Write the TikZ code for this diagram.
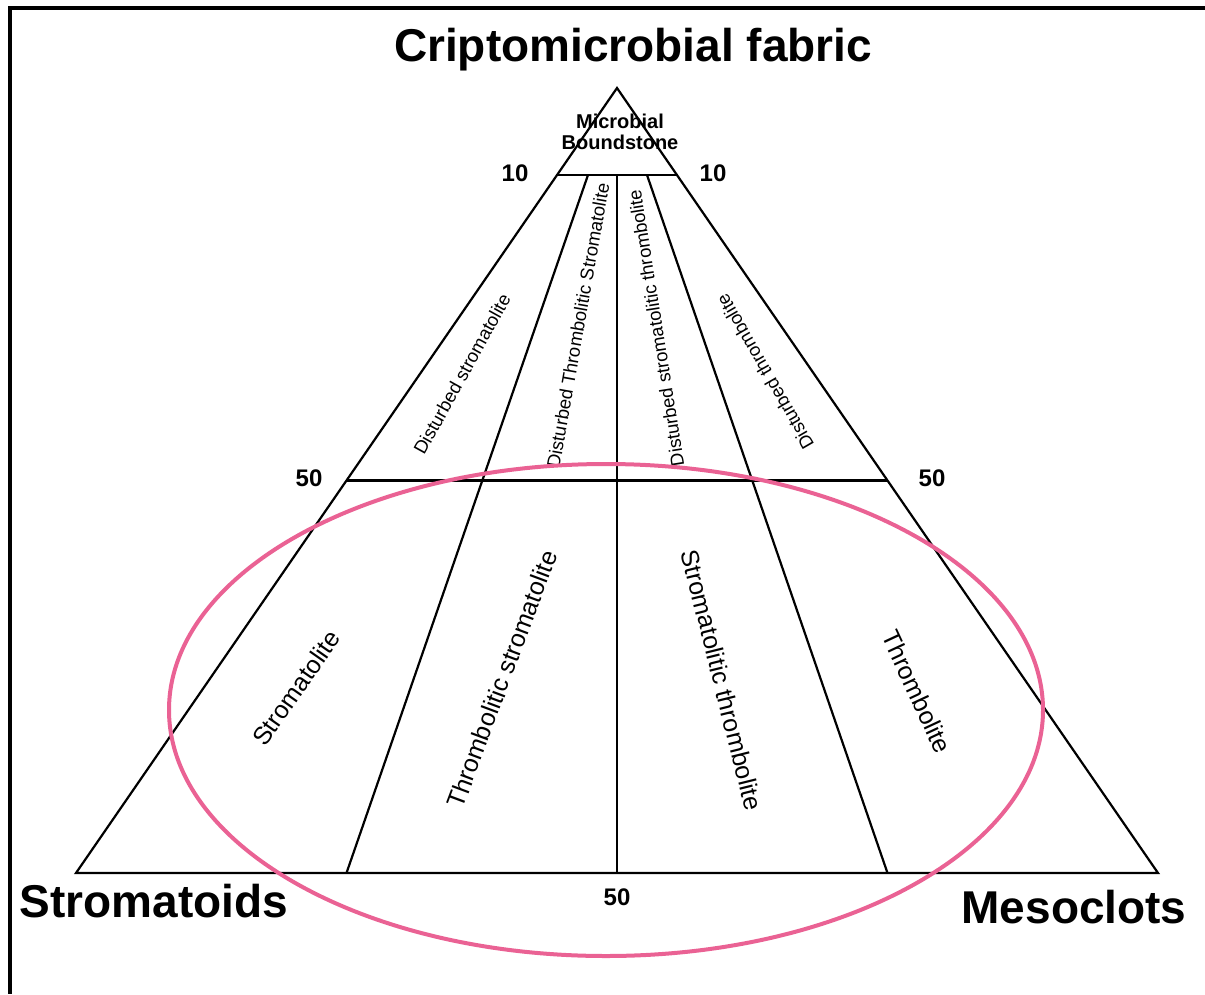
\documentclass[tikz,border=0pt]{standalone}
\usepackage{fontspec}
\setmainfont{Liberation Sans}
\usetikzlibrary{calc}
\definecolor{ringpink}{RGB}{234,98,148}
\tikzset{
  triline/.style={
    draw=black,
    line width=2.2pt,
    line join=miter
  },
  frameline/.style={
    draw=black,
    line width=4pt
  },
  cornerlabel/.style={
    font=\fontsize{46}{50}\selectfont\bfseries,
    inner sep=0pt
  },
  ticklabel/.style={
    font=\fontsize{24}{26}\selectfont\bfseries,
    inner sep=0pt
  },
  fieldlabel/.style={
    font=\fontsize{25}{28}\selectfont,
    inner sep=0pt
  },
  topfield/.style={
    font=\fontsize{18.5}{20}\selectfont,
    inner sep=0pt
  }
}

\begin{document}
\begin{tikzpicture}[x=1pt,y=-1pt]

  % Page size of the reference, with the open frame on top and left.
  \useasboundingbox (0,0) rectangle (1205,994);
  \draw[frameline] (8,8) -- (1205,8);
  \draw[frameline] (10,6) -- (10,994);

  % Corners of the ternary triangle.
  \coordinate (A) at (617,88);
  \coordinate (L) at (76,873);
  \coordinate (R) at (1158,873);

  % The 10 and 50 levels, and the feet of the dividing lines.
  \coordinate (T1) at ($(A)!0.111!(L)$);
  \coordinate (T2) at ($(A)!0.111!(R)$);
  \coordinate (F1) at ($(A)!0.5!(L)$);
  \coordinate (F2) at ($(A)!0.5!(R)$);
  \coordinate (Q1) at (588,175);
  \coordinate (Q2) at (617,175);
  \coordinate (Q3) at (647,175);
  \coordinate (B1) at ($(L)!0.25!(R)$);
  \coordinate (B2) at ($(L)!0.5!(R)$);
  \coordinate (B3) at ($(L)!0.75!(R)$);

  \draw[triline] (A) -- (L) -- (R) -- cycle;
  \draw[triline] (T1) -- (T2);
  \draw[triline] (F1) -- (F2);
  \draw[triline] (Q1) -- (B1);
  \draw[triline] (Q2) -- (B2);
  \draw[triline] (Q3) -- (B3);

  % Field names, upper (disturbed) row.
  \node[topfield,align=center,font=\fontsize{20}{21}\selectfont\bfseries]
    (mb) at (620,132) {Microbial\\Boundstone};
  \node[topfield,rotate=61] (ds) at (462,374) {Disturbed stromatolite};
  \node[topfield,rotate=80] (dts) at (578,325) {Disturbed Thrombolitic Stromatolite};
  \node[topfield,rotate=99] (dst) at (656,328) {Disturbed stromatolitic thrombolite};
  \node[topfield,rotate=120] (dt) at (765,372) {Disturbed thrombolite};

  % Field names, lower row.
  \node[fieldlabel,rotate=55] (st) at (296,688) {Stromatolite};
  \node[fieldlabel,rotate=69.5] (ts) at (502,679) {Thrombolitic stromatolite};
  \node[fieldlabel,rotate=-76] (sth) at (722,680) {Stromatolitic thrombolite};
  \node[fieldlabel,rotate=-65] (th) at (917,692) {Thrombolite};

  % Scale values along the sides.
  \node[ticklabel] (ten1) at (515,173) {10};
  \node[ticklabel] (ten2) at (713,173) {10};
  \node[ticklabel] (fif1) at (309,478) {50};
  \node[ticklabel] (fif2) at (932,478) {50};
  \node[ticklabel] (fif3) at (617,897) {50};

  % End members.
  \node[cornerlabel] (crip) at (633,50) {Criptomicrobial fabric};
  \node[cornerlabel] (strd) at (154,901) {Stromatoids};
  \node[cornerlabel] (meso) at (1074,907) {Mesoclots};

  % Highlighted field.
  \draw[ringpink,line width=4pt] (606,710) ellipse[x radius=437,y radius=246];

\end{tikzpicture}
\end{document}
